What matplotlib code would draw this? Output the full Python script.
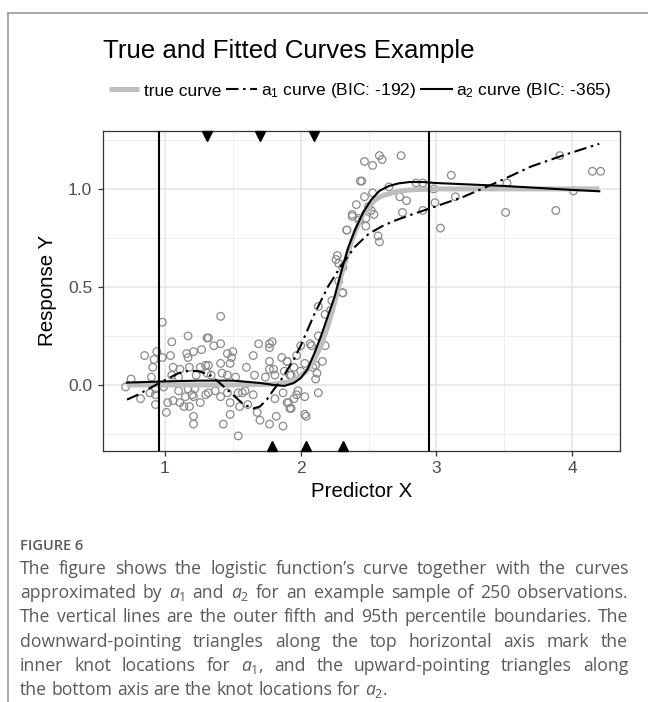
import matplotlib
matplotlib.use("Agg")
import matplotlib.pyplot as plt
from matplotlib.lines import Line2D
import matplotlib.transforms as mtransforms

plt.rcParams['font.family'] = ['Liberation Sans', 'DejaVu Sans']
plt.rcParams['mathtext.fontset'] = 'custom'
plt.rcParams['mathtext.rm'] = 'Open Sans'
plt.rcParams['mathtext.it'] = 'Open Sans:italic'

# ── data ──────────────────────────────────────────────────────────
x_true = [0.72, 1.0, 1.5, 1.8, 1.9, 1.95, 2.0, 2.05, 2.1, 2.15, 2.2, 2.25,
          2.3, 2.35, 2.4, 2.45, 2.5, 2.55, 2.6, 2.7, 2.8, 3.0, 3.5, 4.2]
y_true = [0.0, 0.0, 0.0, 0.004, 0.014, 0.025, 0.045, 0.075, 0.13, 0.2, 0.3,
          0.42, 0.56, 0.68, 0.78, 0.86, 0.91, 0.945, 0.965, 0.985, 0.995,
          1.0, 1.0, 1.0]

x_a1 = [0.72, 0.8, 0.9, 1.0, 1.1, 1.18, 1.25, 1.33, 1.4, 1.5, 1.58, 1.65,
        1.7, 1.75, 1.8, 1.85, 1.9, 1.95, 2.0, 2.05, 2.1, 2.15, 2.2, 2.3,
        2.4, 2.5, 2.6, 2.7, 2.8, 2.95, 3.2, 3.45, 3.7, 3.95, 4.2]
y_a1 = [-0.075, -0.05, -0.012, 0.025, 0.06, 0.073, 0.07, 0.05, 0.012, -0.05,
        -0.1, -0.12, -0.11, -0.075, -0.025, 0.02, 0.075, 0.13, 0.2, 0.28,
        0.36, 0.43, 0.5, 0.61, 0.705, 0.77, 0.81, 0.84, 0.865, 0.9, 0.96,
        1.035, 1.115, 1.175, 1.23]

x_a2 = [0.72, 1.0, 1.25, 1.5, 1.7, 1.8, 1.88, 1.95, 2.0, 2.05, 2.1, 2.15,
        2.2, 2.25, 2.3, 2.35, 2.4, 2.46, 2.52, 2.58, 2.65, 2.72, 2.8, 2.9,
        3.0, 3.5, 4.0, 4.2]
y_a2 = [0.012, 0.018, 0.022, 0.022, 0.01, 0.0, -0.005, 0.01, 0.035, 0.08,
        0.16, 0.25, 0.35, 0.45, 0.58, 0.7, 0.79, 0.88, 0.945, 0.99, 1.015,
        1.028, 1.035, 1.035, 1.03, 1.015, 0.995, 0.988]

x_obs = [0.98, 1.05, 1.17, 1.31, 0.85, 0.94, 0.98, 0.92, 1.04, 1.16, 1.21, 1.27,
         1.17, 0.91, 1.06, 1.11, 1.18, 1.26, 1.30, 0.75, 0.90, 1.05, 1.10, 1.23,
         1.31, 0.71, 0.93, 0.99, 1.10, 1.17, 1.22, 0.82, 0.89, 0.93, 1.02, 1.06,
         1.11, 1.15, 1.20, 1.21, 1.26, 1.30, 0.93, 1.01, 1.14, 1.18, 1.21, 1.21,
         1.41, 1.32, 1.36, 1.41, 1.46, 1.50, 1.49, 1.65, 1.69, 1.77, 1.79, 1.77,
         1.60, 1.32, 1.41, 1.48, 1.77, 1.86, 1.90, 1.97, 1.66, 1.74, 1.77, 1.80,
         1.81, 1.34, 1.42, 1.46, 1.52, 1.88, 1.93, 2.00, 1.32, 1.37, 1.41, 1.46,
         1.48, 1.54, 1.57, 1.59, 1.65, 1.55, 1.48, 1.61, 1.43, 1.68, 1.70, 1.77,
         1.82, 1.87, 1.81, 1.87, 1.91, 1.93, 1.97, 2.03, 1.54,
         2.38, 2.43, 2.34, 2.27, 2.28, 2.26, 2.28, 2.31, 2.23, 2.22, 2.18, 2.13,
         2.18, 2.07, 2.08, 2.00, 2.13, 2.16, 2.11, 2.09, 2.12, 2.11, 2.03, 1.95,
         1.90, 1.92, 1.98, 2.13, 2.03, 1.95, 1.90, 1.92, 2.04,
         2.58, 2.60, 2.74, 2.47, 2.53, 2.45, 2.65, 2.85, 2.90, 2.47, 2.53, 2.73,
         2.78, 2.41, 2.50, 2.52, 2.75, 2.38, 2.48, 2.54, 2.43, 2.48, 2.34, 2.57,
         2.58, 2.31, 2.44, 2.98, 3.11, 2.99, 3.14, 3.03, 2.90, 3.52, 3.51, 3.91,
         3.88, 4.01, 4.15, 4.21, 2.31]
y_obs = [0.32, 0.22, 0.25, 0.24, 0.15, 0.17, 0.14, 0.13, 0.15, 0.16, 0.17, 0.18,
         0.14, 0.09, 0.09, 0.08, 0.09, 0.09, 0.10, 0.03, 0.04, 0.05, 0.04, 0.05,
         0.06, -0.01, -0.02, -0.01, -0.03, -0.02, -0.02, -0.07, -0.04, -0.05, -0.09, -0.08,
         -0.09, -0.06, -0.05, -0.06, -0.09, -0.05, -0.10, -0.14, -0.11, -0.11, -0.16, -0.20,
         0.35, 0.24, 0.20, 0.21, 0.16, 0.17, 0.14, 0.15, 0.21, 0.21, 0.22, 0.19,
         0.09, 0.10, 0.11, 0.11, 0.12, 0.14, 0.12, 0.15, 0.05, 0.04, 0.08, 0.08,
         0.05, 0.05, 0.06, 0.05, 0.04, 0.07, 0.05, 0.07, -0.04, -0.03, -0.06, -0.04,
         -0.09, -0.04, -0.04, -0.03, -0.05, -0.11, -0.15, -0.10, -0.20, -0.14, -0.18, -0.20,
         -0.16, -0.21, -0.07, -0.04, -0.09, -0.12, -0.05, -0.15, -0.26,
         0.87, 0.85, 0.79, 0.66, 0.62, 0.64, 0.53, 0.47, 0.43, 0.38, 0.36, 0.40,
         0.20, 0.21, 0.20, 0.20, 0.25, 0.12, 0.10, 0.09, 0.06, 0.03, 0.11, 0.09,
         0.12, 0.05, -0.03, -0.04, -0.06, -0.07, -0.09, -0.12, -0.16,
         1.17, 1.15, 1.17, 1.14, 1.12, 1.04, 1.01, 1.03, 1.03, 0.96, 0.98, 0.96,
         0.94, 0.92, 0.91, 0.89, 0.88, 0.86, 0.85, 0.87, 0.84, 0.81, 0.79, 0.76,
         0.73, 0.60, 1.04, 1.00, 1.07, 0.93, 0.96, 0.80, 0.89, 1.03, 0.88, 1.17,
         0.89, 0.99, 1.09, 1.09, 0.47]

pct_bounds = [0.957, 2.943]          # 5th / 95th percentile
knots_a1 = [1.31, 1.70, 2.10]
knots_a2 = [1.79, 2.04, 2.31]
x_ticks = [1, 2, 3, 4]
y_ticks = [0.0, 0.5, 1.0]
y_ticklabels = ['0.0', '0.5', '1.0']

bic_a1, bic_a2 = -192, -365

caption_head = "FIGURE 6"
caption_lines = [
    "The figure shows the logistic function\u2019s curve together with the curves",
    "approximated by $a_1$ and $a_2$ for an example sample of 250 observations.",
    "The vertical lines are the outer fifth and 95th percentile boundaries. The",
    "downward-pointing triangles along the top horizontal axis mark the",
    "inner knot locations for $a_1$, and the upward-pointing triangles along",
    "the bottom axis are the knot locations for $a_2$.",
]

# ── figure ────────────────────────────────────────────────────────
W, H = 648, 702
fig = plt.figure(figsize=(W / 100, H / 100), dpi=100)
fig.patch.set_facecolor('white')

ax = fig.add_axes([102.7 / W, 1 - 451 / H, (620 - 102.7) / W, (451 - 130.7) / H])
ax.set_xlim(0.541, 4.353)
ax.set_ylim(-0.337, 1.297)

# grid (theme_bw look)
for v in [0.5, 1.5, 2.5, 3.5]:
    ax.axvline(v, color='#eeeeee', lw=0.7, zorder=0)
for v in [-0.25, 0.25, 0.75, 1.25]:
    ax.axhline(v, color='#eeeeee', lw=0.7, zorder=0)
for v in x_ticks:
    ax.axvline(v, color='#e6e6e6', lw=1.2, zorder=0)
for v in y_ticks:
    ax.axhline(v, color='#e6e6e6', lw=1.2, zorder=0)

for s in ax.spines.values():
    s.set_color('#333333')
    s.set_linewidth(0.9)

ax.set_xticks(x_ticks)
ax.set_xticklabels([str(t) for t in x_ticks])
ax.set_yticks(y_ticks)
ax.set_yticklabels(y_ticklabels)
ax.tick_params(direction='out', length=3.5, width=0.9, color='#333333',
               labelcolor='#4d4d4d', labelsize=12.5, pad=4)

ax.scatter(x_obs, y_obs, s=30, facecolors='none', edgecolors='#8a8a8a',
           linewidths=0.9, zorder=2)

ax.plot(x_true, y_true, color='#bebebe', lw=3.6, solid_capstyle='butt', zorder=3)
l1, = ax.plot(x_a1, y_a1, color='black', lw=1.5, zorder=4)
l1.set_dashes([6, 2.2, 1.2, 2.2])
ax.plot(x_a2, y_a2, color='black', lw=1.5, zorder=5)

for b in pct_bounds:
    ax.axvline(b, color='black', lw=1.5, zorder=6)

trans = mtransforms.blended_transform_factory(ax.transData, ax.transAxes)
ax.plot(knots_a1, [0.985] * len(knots_a1), 'v', color='black', ms=6.5,
        transform=trans, clip_on=False, zorder=7)
ax.plot(knots_a2, [0.015] * len(knots_a2), '^', color='black', ms=6.5,
        transform=trans, clip_on=False, zorder=7)

ax.set_xlabel('Predictor X', fontsize=14.8, color='black', labelpad=4)
ax.set_ylabel('Response Y', fontsize=14.8, color='black', labelpad=8)

fig.text(103 / W, 1 - 51 / H, 'True and Fitted Curves Example', fontsize=18.6,
         ha='left', va='center')

handles = [
    Line2D([], [], color='#bebebe', lw=3.6, solid_capstyle='butt'),
    Line2D([], [], color='black', lw=1.5, dashes=[6, 2.2, 1.2, 2.2]),
    Line2D([], [], color='black', lw=1.5),
]
labels = ['true curve',
          r'a$\mathregular{_1}$ curve (BIC: %d)' % bic_a1,
          r'a$\mathregular{_2}$ curve (BIC: %d)' % bic_a2]
fig.legend(handles, labels, loc='center', bbox_to_anchor=(360 / W, 1 - 91 / H),
           ncol=3, frameon=False, fontsize=12.5, handlelength=1.75,
           handletextpad=0.25, columnspacing=0.3, borderaxespad=0)

# ── page frame & caption ──────────────────────────────────────────
fig.add_artist(Line2D([8 / W, 1], [1 - 13 / H, 1 - 13 / H], color='#9a9a9a', lw=1.2))
fig.add_artist(Line2D([8 / W, 8 / W], [0, 1 - 13 / H], color='#9a9a9a', lw=1.2))

cap_color = '#5a5a5a'
fig.text(20 / W, 1 - 550 / H, caption_head, fontsize=10.5, color=cap_color,
         family='Open Sans', weight='semibold', va='baseline')

renderer = fig.canvas.get_renderer()
x0, x1 = 20.0, 628.0
cap_size = 12.7
for i, line in enumerate(caption_lines):
    yb = 1 - (574 + 24.2 * i) / H
    words = line.split(' ')
    arts = [fig.text(0, yb, w, fontsize=cap_size, color=cap_color, family='Open Sans',
                     va='baseline', ha='left') for w in words]
    widths = [a.get_window_extent(renderer).width for a in arts]
    if i < len(caption_lines) - 1:
        gap = (x1 - x0 - sum(widths)) / (len(words) - 1)
    else:
        space = fig.text(0, 0, 'a a', fontsize=cap_size, family='Open Sans')
        aa = fig.text(0, 0, 'aa', fontsize=cap_size, family='Open Sans')
        gap = space.get_window_extent(renderer).width - aa.get_window_extent(renderer).width
        space.remove()
        aa.remove()
    xpos = x0
    for a, w in zip(arts, widths):
        a.set_x(xpos / W)
        xpos += w + gap

fig.savefig('out.png', dpi=100, facecolor='white')
